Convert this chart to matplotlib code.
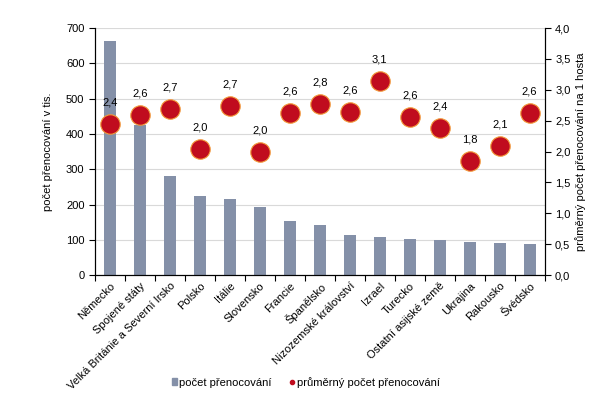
import matplotlib.pyplot as plt
from matplotlib.ticker import FuncFormatter, MultipleLocator
from matplotlib.lines import Line2D
from matplotlib.patches import Patch

plt.rcParams['font.family'] = ['Liberation Sans', 'DejaVu Sans']
plt.rcParams['font.size'] = 8

countries = ["Německo", "Spojené státy", "Velká Británie a Severní Irsko", "Polsko",
             "Itálie", "Slovensko", "Francie", "Španělsko", "Nizozemské království",
             "Izrael", "Turecko", "Ostatní asijské země", "Ukrajina", "Rakousko", "Švédsko"]
nights = [664, 426, 281, 224, 216, 193, 153, 142, 113, 108, 102, 99, 94, 91, 88]
avg_nights = [2.44, 2.59, 2.69, 2.04, 2.73, 1.99, 2.62, 2.77, 2.64, 3.14, 2.56, 2.38, 1.84, 2.09, 2.63]

bar_color = '#8490A8'
dot_color = '#C00C1E'
dot_edge = '#F39A3A'

fig = plt.figure(figsize=(6.12, 4.01), dpi=100)
ax = fig.add_axes([0.155, 0.314, 0.735, 0.616])
ax2 = ax.twinx()

x = list(range(len(countries)))
ax.bar(x, nights, width=0.4, color=bar_color, zorder=2)
ax.set_ylim(0, 700)
ax.set_xlim(-0.5, len(countries) - 0.5)
ax.yaxis.set_major_locator(MultipleLocator(100))
ax.grid(axis='y', color='#D9D9D9', linewidth=0.8, zorder=0)
ax.set_axisbelow(True)

ax2.plot(x, avg_nights, 'o', markersize=14, color=dot_color,
         markeredgecolor=dot_edge, markeredgewidth=0.8, zorder=3)
for xi, v in zip(x, avg_nights):
    ax2.annotate(f"{v:.1f}".replace('.', ','), (xi, v), xytext=(0, 12),
                 textcoords='offset points', ha='center', va='bottom', fontsize=8)
ax2.set_ylim(0, 4)
ax2.yaxis.set_major_locator(MultipleLocator(0.5))
ax2.yaxis.set_major_formatter(FuncFormatter(lambda v, p: f"{v:.1f}".replace('.', ',')))

# tick marks between categories, labels at category centres
ax.set_xticks([i + 0.5 for i in range(-1, len(countries))], minor=False)
ax.set_xticklabels([])
ax.set_xticks(x, minor=True)
ax.set_xticklabels(countries, minor=True, rotation=45, ha='right', rotation_mode='anchor')
ax.tick_params(axis='x', which='minor', length=0, pad=4)
ax.tick_params(axis='x', which='major', length=4, direction='out')
ax.tick_params(axis='y', length=4, direction='out')
ax2.tick_params(axis='y', length=4, direction='out')

for a in (ax, ax2):
    a.spines['top'].set_visible(False)
    for s in ('left', 'right', 'bottom'):
        a.spines[s].set_color('black')
        a.spines[s].set_linewidth(0.8)

ax.set_ylabel("počet přenocování v tis.", labelpad=9)
ax2.set_ylabel("průměrný počet přenocování na 1 hosta", labelpad=3)

handles = [Patch(color=bar_color, label='počet přenocování'),
           Line2D([], [], marker='o', linestyle='none', color=dot_color, markersize=3,
                  label='průměrný počet přenocování')]
fig.legend(handles=handles, loc='center', bbox_to_anchor=(0.5, 0.047), ncol=2,
           frameon=False, handlelength=0.5, handleheight=0.5, handletextpad=0.2,
           columnspacing=1.6)

fig.savefig('out.png', dpi=100)
